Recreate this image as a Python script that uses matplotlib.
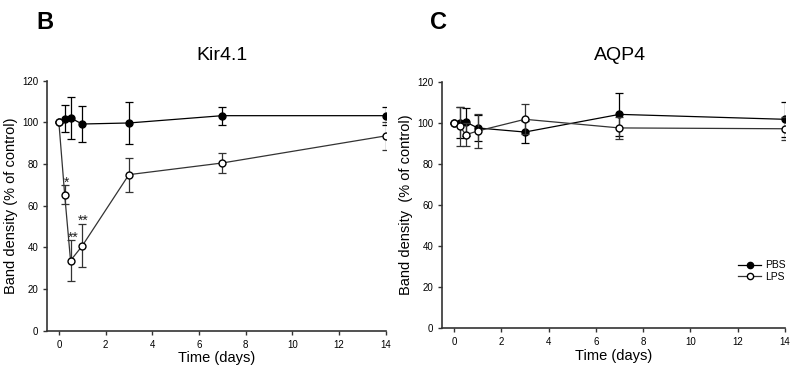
import matplotlib.pyplot as plt
from matplotlib.lines import Line2D

plt.rcParams['font.family'] = ['Liberation Sans', 'DejaVu Sans']

# time points (days)
days = [0, 0.25, 0.5, 1, 3, 7, 14]

# Kir4.1
kir_pbs = [100, 101.8, 102.1, 99.2, 99.7, 103.2, 103.2]
kir_pbs_err = [0, 6.5, 9.9, 8.5, 10, 4.3, 4.3]
kir_lps = [100, 65.2, 33.7, 40.7, 74.9, 80.5, 93.5]
kir_lps_err = [0, 4.6, 10, 10.3, 8.2, 5, 6.8]

# AQP4
aqp_pbs = [100, 100, 100.4, 97.5, 95.5, 104.1, 101.7]
aqp_pbs_err = [0, 7.5, 7, 6.3, 5.5, 10.6, 8.6]
aqp_lps = [100, 98.3, 94.2, 96, 101.7, 97.5, 97.1]
aqp_lps_err = [0, 9.5, 5.5, 8.4, 7.3, 5.4, 5.5]

# significance marks on Kir4.1 LPS
stars = ['*', '**', '**']
star_x = [0.33, 0.62, 1.05]
star_y = [71, 44.5, 53]

fig = plt.figure(figsize=(8, 3.7), dpi=100)
ax1 = fig.add_axes([0.059, 0.106, 0.423, 0.676])
ax2 = fig.add_axes([0.5527, 0.1127, 0.4285, 0.6665])


def draw(ax, pbs, pbs_err, lps, lps_err):
    ax.errorbar(days, pbs, yerr=pbs_err, color='black', lw=0.9, marker='o',
                ms=5, mfc='black', mec='black', capsize=3, elinewidth=0.9,
                capthick=0.9, zorder=3)
    ax.errorbar(days, lps, yerr=lps_err, color='#333333', lw=0.9, marker='o',
                ms=5, mfc='white', mec='black', capsize=3, elinewidth=0.9,
                capthick=0.9, zorder=4)
    ax.set_xlim(-0.5, 14)
    ax.set_ylim(0, 120)
    ax.set_xticks(range(0, 15, 2))
    ax.set_yticks(range(0, 121, 20))
    for s in ['top', 'right']:
        ax.spines[s].set_visible(False)
    for s in ['left', 'bottom']:
        ax.spines[s].set_color('#333333')
        ax.spines[s].set_linewidth(1.2)
    ax.tick_params(labelsize=7, length=3, width=1, color='#333333')
    ax.set_xlabel('Time (days)', fontsize=10.5, labelpad=1)


draw(ax1, kir_pbs, kir_pbs_err, kir_lps, kir_lps_err)
draw(ax2, aqp_pbs, aqp_pbs_err, aqp_lps, aqp_lps_err)

ax1.set_ylabel('Band density (% of control)', fontsize=10.5, labelpad=3)
ax2.set_ylabel('Band density  (% of control)', fontsize=10.5, labelpad=3)

for t, x, y in zip(stars, star_x, star_y):
    ax1.text(x, y, t, fontsize=10, ha='center', va='center', color='#222222')

fig.text(0.277, 0.85, 'Kir4.1', fontsize=14, ha='center', va='center')
fig.text(0.775, 0.85, 'AQP4', fontsize=14, ha='center', va='center')
fig.text(0.045, 0.94, 'B', fontsize=17, fontweight='bold', ha='left', va='center')
fig.text(0.537, 0.94, 'C', fontsize=17, fontweight='bold', ha='left', va='center')

handles = [
    Line2D([], [], color='black', lw=0.9, marker='o', ms=4.5, mfc='black', mec='black'),
    Line2D([], [], color='#333333', lw=0.9, marker='o', ms=4.5, mfc='white', mec='black'),
]
ax2.legend(handles, ['PBS', 'LPS'], loc='lower right', bbox_to_anchor=(1.03, 0.15),
           frameon=False, fontsize=7.5, handlelength=2.2, handletextpad=0.4,
           labelspacing=0.15)

fig.savefig('out.png', dpi=100)
